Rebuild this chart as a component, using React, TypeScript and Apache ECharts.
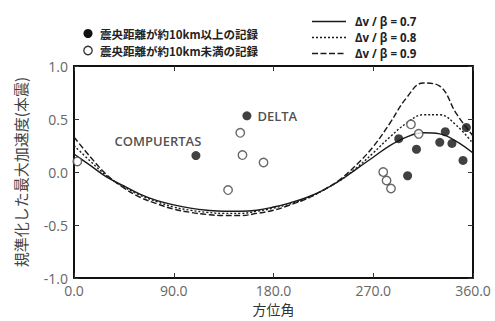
import React, { useEffect, useRef } from "react";
import * as echarts from "echarts";

const angles = [0, 15, 30, 45, 60, 75, 90, 105, 120, 135, 150, 165, 180, 195, 210, 225, 240, 255, 270, 285, 300, 315, 330, 345, 360];
const ratio07 = [0.17, 0.06, -0.05, -0.13, -0.21, -0.27, -0.31, -0.34, -0.36, -0.37, -0.37, -0.36, -0.33, -0.29, -0.24, -0.17, -0.08, 0.03, 0.14, 0.25, 0.33, 0.37, 0.36, 0.29, 0.18];
const ratio08 = [0.25, 0.1, -0.04, -0.14, -0.22, -0.28, -0.33, -0.36, -0.38, -0.39, -0.39, -0.37, -0.34, -0.3, -0.25, -0.17, -0.08, 0.04, 0.18, 0.33, 0.46, 0.54, 0.54, 0.44, 0.27];
const ratio09 = [0.33, 0.14, -0.03, -0.15, -0.24, -0.3, -0.35, -0.38, -0.4, -0.41, -0.41, -0.39, -0.36, -0.31, -0.25, -0.17, -0.07, 0.07, 0.24, 0.46, 0.7, 0.84, 0.81, 0.55, 0.34];

const farAngles = [110, 156, 293, 301, 309, 330, 335, 341, 351, 354];
const farValues = [0.155, 0.53, 0.315, -0.035, 0.215, 0.28, 0.38, 0.27, 0.11, 0.42];
const farNames = ["COMPUERTAS", "DELTA", "", "", "", "", "", "", "", ""];

const nearAngles = [3, 139, 150, 152, 171, 279, 282, 286, 304, 311];
const nearValues = [0.1, -0.17, 0.37, 0.16, 0.09, 0.0, -0.08, -0.155, 0.45, 0.36];

const xTicks = [0, 90, 180, 270, 360];
const yTicks = [-1, -0.5, 0, 0.5, 1];

const legendFar = "震央距離が約10km以上の記録";
const legendNear = "震央距離が約10km未満の記録";
const curveNames = ["Δv / β = 0.7", "Δv / β = 0.8", "Δv / β = 0.9"];
const curveDash: any[] = ["solid", [2, 2], [6, 2.5]];

const CJK = '"Noto Sans CJK JP", "Noto Sans", sans-serif';
const LAT = '"Open Sans", "Noto Sans", sans-serif';

export default function App() {
  const ref = useRef<HTMLDivElement>(null);
  useEffect(() => {
    document.body.style.margin = "0";
    const chart = echarts.init(ref.current!, null, { renderer: "svg" });
    const curves = [ratio07, ratio08, ratio09];
    const lineSeries = curves.map((vals, i) => ({
      type: "line",
      name: curveNames[i],
      data: angles.map((a, j) => [a, vals[j]]),
      smooth: 0.4,
      showSymbol: false,
      lineStyle: { color: "#1a1a1a", width: 1.4, type: curveDash[i] },
      z: 2,
    }));
    const axisCommonX = {
      type: "value",
      min: xTicks[0],
      max: xTicks[xTicks.length - 1],
      interval: 90,
      splitLine: { show: false },
      axisLine: { show: true, onZero: false, lineStyle: { color: "#111", width: 2 } },
      axisTick: { show: true, inside: true, length: 5, lineStyle: { color: "#333", width: 1 } },
    };
    const axisCommonY = {
      type: "value",
      min: yTicks[0],
      max: yTicks[yTicks.length - 1],
      interval: 0.5,
      splitLine: { show: false },
      axisLine: { show: true, onZero: false, lineStyle: { color: "#111", width: 2 } },
      axisTick: { show: true, inside: true, length: 5, lineStyle: { color: "#333", width: 1 } },
    };
    const legendGraphics: any[] = [
      { type: "circle", shape: { cx: 88, cy: 33.5, r: 4.5 }, style: { fill: "#111" } },
      { type: "text", x: 100, y: 33.5, style: { text: legendFar, font: `bold 11.5px ${CJK}`, fill: "#222", verticalAlign: "middle" } },
      { type: "circle", shape: { cx: 88, cy: 50.5, r: 4.2 }, style: { fill: "#fff", stroke: "#333", lineWidth: 1.3 } },
      { type: "text", x: 100, y: 50.5, style: { text: legendNear, font: `bold 11.5px ${CJK}`, fill: "#222", verticalAlign: "middle" } },
    ];
    [21.5, 37.5, 53.5].forEach((y, i) => {
      legendGraphics.push({
        type: "line",
        shape: { x1: 312, y1: y, x2: 346, y2: y },
        style: { stroke: "#1a1a1a", lineWidth: 1.4, lineDash: i === 0 ? null : curveDash[i] },
      });
      legendGraphics.push({
        type: "text",
        x: 355,
        y: y,
        style: { text: curveNames[i], font: `bold 11.5px ${LAT}`, fill: "#222", verticalAlign: "middle" },
      });
    });
    chart.setOption({
      animation: false,
      grid: { left: 74, right: 22, top: 66, bottom: 39 },
      xAxis: [
        {
          ...axisCommonX,
          position: "bottom",
          axisLabel: { formatter: (v: number) => v.toFixed(1), fontSize: 14, color: "#666", margin: 5, fontFamily: LAT },
          name: "方位角",
          nameLocation: "middle",
          nameGap: 23,
          nameTextStyle: { fontSize: 14, color: "#333", fontFamily: CJK },
        },
        { ...axisCommonX, position: "top", axisLabel: { show: false } },
      ],
      yAxis: [
        {
          ...axisCommonY,
          position: "left",
          axisLabel: { formatter: (v: number) => v.toFixed(1), fontSize: 14, color: "#666", margin: 6, fontFamily: LAT },
          name: "規準化した最大加速度(本震)",
          nameLocation: "middle",
          nameGap: 46,
          nameRotate: 90,
          nameTextStyle: { fontSize: 15, color: "#444", fontFamily: CJK },
        },
        { ...axisCommonY, position: "right", axisLabel: { show: false } },
      ],
      series: [
        ...lineSeries,
        {
          type: "scatter",
          data: farAngles.map((a, i) => ({
            value: [a, farValues[i]],
            label: farNames[i]
              ? i === 0
                ? { show: true, formatter: farNames[i], position: "top", distance: 4, offset: [-38, 0] }
                : { show: true, formatter: farNames[i], position: "right", distance: 6 }
              : { show: false },
          })),
          symbol: "circle",
          symbolSize: 9,
          itemStyle: { color: "#111" },
          label: { fontSize: 13, fontWeight: 600, color: "#222", fontFamily: LAT },
          z: 3,
        },
        {
          type: "scatter",
          data: nearAngles.map((a, i) => [a, nearValues[i]]),
          symbol: "circle",
          symbolSize: 8.5,
          itemStyle: { color: "#fff", borderColor: "#444", borderWidth: 1.4 },
          z: 3,
        },
      ],
      graphic: legendGraphics,
    });
    return () => chart.dispose();
  }, []);
  return <div ref={ref} style={{ width: 495, height: 321 }} />;
}
